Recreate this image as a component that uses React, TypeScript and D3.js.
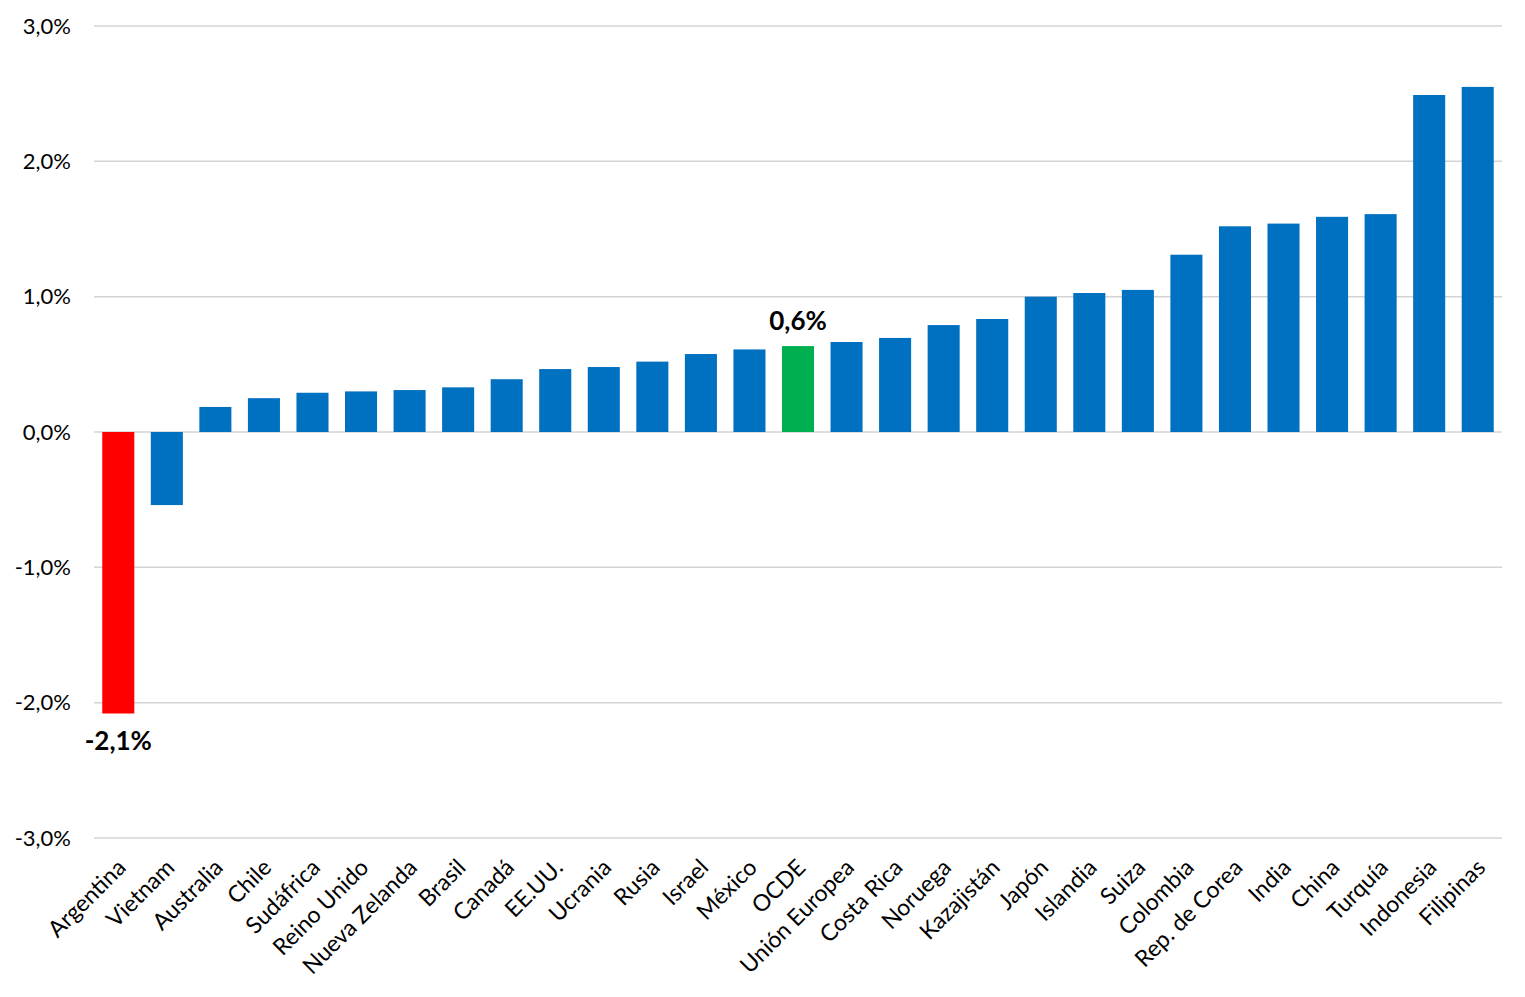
import { useEffect, useRef } from 'react';
import * as d3 from 'd3';

const countries = [
  'Argentina', 'Vietnam', 'Australia', 'Chile', 'Sudáfrica', 'Reino Unido', 'Nueva Zelanda',
  'Brasil', 'Canadá', 'EE.UU.', 'Ucrania', 'Rusia', 'Israel', 'México', 'OCDE',
  'Unión Europea', 'Costa Rica', 'Noruega', 'Kazajistán', 'Japón', 'Islandia', 'Suiza',
  'Colombia', 'Rep. de Corea', 'India', 'China', 'Turquía', 'Indonesia', 'Filipinas',
];

const values = [
  -2.08, -0.54, 0.185, 0.25, 0.29, 0.30, 0.31,
  0.33, 0.39, 0.465, 0.48, 0.52, 0.576, 0.61, 0.635,
  0.665, 0.695, 0.79, 0.835, 1.0, 1.027, 1.05,
  1.31, 1.52, 1.54, 1.59, 1.61, 2.49, 2.55,
];

const yTicks = [-3, -2, -1, 0, 1, 2, 3];

// highlighted bars with their labels
const highlights: Record<string, { color: string; label: string }> = {
  Argentina: { color: '#FF0000', label: '-2,1%' },
  OCDE: { color: '#00B050', label: '0,6%' },
};

const FONT = 'Lato, "Open Sans", sans-serif';

export default function App() {
  const svgRef = useRef<SVGSVGElement>(null);

  useEffect(() => {
    if (!svgRef.current) return;
    const W = 1525;
    const H = 997;
    const left = 94;
    const right = 1502;

    d3.select(svgRef.current).selectAll('*').remove();
    const svg = d3.select(svgRef.current).attr('width', W).attr('height', H);

    const x = d3.scaleBand<string>()
      .domain(countries)
      .range([left, right])
      .paddingInner(0.34)
      .paddingOuter(0.17);

    const y = d3.scaleLinear().domain([-3, 3]).range([838, 26]);

    // Gridlines
    svg.append('g')
      .selectAll('line')
      .data(yTicks)
      .join('line')
      .attr('x1', left)
      .attr('x2', right)
      .attr('y1', d => y(d))
      .attr('y2', d => y(d))
      .attr('stroke', '#d4d4d4')
      .attr('stroke-width', 1.5);

    // Y labels
    svg.append('g')
      .selectAll('text')
      .data(yTicks)
      .join('text')
      .attr('x', 71)
      .attr('y', d => y(d))
      .attr('dy', '0.35em')
      .attr('text-anchor', 'end')
      .attr('font-family', FONT)
      .attr('font-size', 22)
      .attr('fill', '#000')
      .text(d => d3.format('.1f')(d).replace('.', ',').replace('−', '-') + '%');

    // Bars
    svg.append('g')
      .selectAll('rect')
      .data(countries)
      .join('rect')
      .attr('x', d => x(d)!)
      .attr('width', x.bandwidth())
      .attr('y', (d, i) => y(Math.max(0, values[i])))
      .attr('height', (d, i) => Math.abs(y(values[i]) - y(0)))
      .attr('fill', d => highlights[d]?.color ?? '#0070C0');

    // Value labels for highlighted bars
    countries.forEach((c, i) => {
      const h = highlights[c];
      if (!h) return;
      const v = values[i];
      svg.append('text')
        .attr('x', x(c)! + x.bandwidth() / 2)
        .attr('y', v < 0 ? y(v) + 37 : y(v) - 16)
        .attr('text-anchor', 'middle')
        .attr('font-family', FONT)
        .attr('font-size', 26)
        .attr('font-weight', 'bold')
        .attr('fill', '#000')
        .text(h.label);
    });

    // Category labels
    svg.append('g')
      .selectAll('text')
      .data(countries)
      .join('text')
      .attr('transform', d => `translate(${x(d)! + x.bandwidth() / 2 + 9},${869}) rotate(-45)`)
      .attr('text-anchor', 'end')
      .attr('font-family', FONT)
      .attr('font-size', 23)
      .attr('fill', '#000')
      .text(d => d);
  }, []);

  return (
    <svg ref={svgRef} style={{ position: 'absolute', left: 0, top: 0, background: '#fff' }}></svg>
  );
}
